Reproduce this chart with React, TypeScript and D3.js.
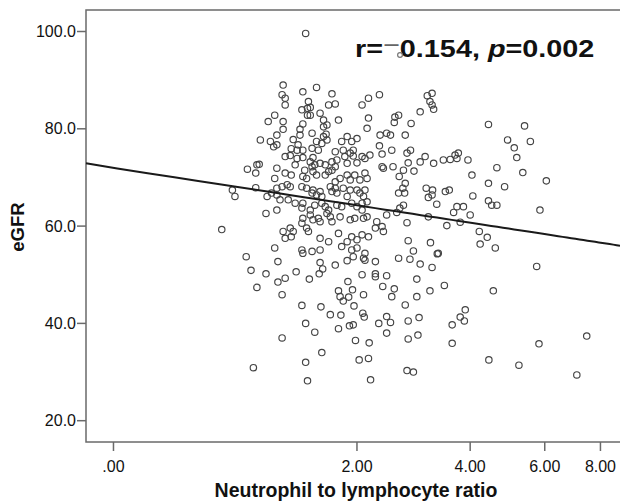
import React from "react";
import * as d3 from "d3";

const xTickValues = [0, 2, 4, 6, 8];
const xTickLabels = [".00", "2.00", "4.00", "6.00", "8.00"];
const yTickValues = [20, 40, 60, 80, 100];
const yTickLabels = ["20.0", "40.0", "60.0", "80.0", "100.0"];

const nlrValues = [
  1.38,0.94,0.83,0.91,0.93,0.90,0.71,0.73,0.90,1.00,0.99,1.01,
  1.15,1.14,1.17,1.17,1.35,1.50,1.68,1.41,1.64,1.72,1.40,1.43,1.34,1.40,1.43,1.54,1.07,
  1.15,1.15,1.35,1.32,1.58,1.58,1.62,1.76,2.07,2.16,2.16,2.14,
  1.09,1.03,1.09,1.06,1.25,1.32,1.30,1.45,1.58,1.61,1.62,1.50,1.35,1.29,1.23,1.45,1.52,1.56,
  1.72,1.80,1.87,1.93,2.00,1.82,1.95,1.91,1.84,1.95,2.07,1.17,1.22,1.29,1.27,1.09,
  1.35,1.43,1.46,1.48,1.45,1.60,1.68,1.74,1.72,2.11,2.18,1.54,1.87,2.00,1.68,
  1.07,1.17,1.23,1.35,1.37,1.39,1.46,1.50,1.60,1.64,1.72,1.78,1.87,1.91,1.97,2.04,2.11,2.14,
  1.09,1.14,1.19,1.22,1.04,1.09,1.34,1.39,1.46,1.45,1.50,1.54,1.56,1.66,1.68,1.72,1.74,1.82,1.91,1.87,2.00,2.04,2.09,2.11,
  1.20,1.27,1.12,1.09,1.35,1.34,1.43,1.48,1.56,1.60,1.64,1.74,1.80,1.93,2.00,2.07,2.14,
  1.35,1.43,1.46,1.52,1.54,1.62,1.66,1.68,1.78,1.91,1.97,2.09,2.07,2.14,
  1.34,1.39,1.22,1.25,1.17,1.15,1.23,1.41,1.54,1.64,1.76,1.87,1.93,2.00,2.07,2.16,
  1.07,1.34,1.35,1.45,1.54,1.80,1.93,2.00,1.95,2.11,2.09,
  0.63,0.82,0.86,0.99,0.91,1.10,1.10,1.17,1.14,1.28,1.42,1.54,1.57,1.53,1.72,1.87,1.88,1.76,1.94,1.78,1.82,1.89,1.96,1.34,1.55,1.66,1.79,1.76,1.90,1.95,1.98,2.03,1.38,1.48,1.14,1.56,1.38,0.88,1.40,
  2.11,2.26,2.07,2.09,2.08,2.10,2.16,2.17,2.19,
  2.33,2.43,2.49,2.73,2.56,2.62,2.55,2.83,2.99,3.21,3.24,
  2.32,2.36,2.51,2.76,2.82,2.99,3.08,3.24,2.78,2.36,2.38,2.53,2.70,2.88,2.63,2.73,2.69,2.72,2.62,
  3.43,3.57,3.67,3.74,3.71,3.95,4.04,3.47,3.55,3.10,3.21,3.14,3.30,3.22,
  4.43,4.92,5.10,5.17,5.39,5.56,4.64,5.34,4.84,4.43,6.05,5.85,4.43,4.51,4.64,4.06,4.00,3.85,3.71,3.64,3.78,3.50,3.14,4.21,4.23,4.40,4.60,
  2.28,2.43,2.59,2.76,2.64,2.70,2.26,2.36,2.38,2.78,2.87,3.18,3.33,3.31,2.62,2.81,2.99,3.21,2.93,2.26,2.26,2.37,2.43,2.51,2.55,2.73,2.93,3.17,3.45,2.78,2.97,2.43,2.49,2.31,2.43,2.78,2.95,2.76,2.87,
  5.75,4.55,7.46,5.82,4.44,5.23,7.09,3.89,3.78,3.87,3.61,3.61,
  2.32,3.12,3.21,3.17,
];

const egfrValues = [
  99.6,77.7,71.7,72.6,72.7,70.9,67.4,66.1,67.9,66.1,62.6,81.5,
  89.0,87.0,86.3,84.9,87.6,88.5,87.2,85.6,84.9,85.1,84.2,84.4,83.9,82.8,82.8,83.2,82.8,
  81.5,79.9,81.0,79.9,81.8,80.4,80.8,81.8,84.9,86.3,82.2,80.1,
  78.7,77.4,76.7,76.3,77.8,78.7,76.7,79.1,78.4,78.9,77.7,77.4,75.6,75.6,75.9,76.0,75.6,77.0,
  75.3,77.4,78.4,77.4,78.0,75.6,75.6,75.0,74.3,74.4,74.3,74.3,74.5,73.9,72.6,71.9,
  74.1,73.2,74.1,72.6,72.2,72.6,73.2,73.6,72.2,73.9,74.6,72.9,72.9,73.0,71.5,
  69.8,70.9,70.5,70.2,71.5,69.8,71.2,70.5,70.5,71.2,69.1,69.8,70.5,69.5,70.5,69.5,70.9,69.8,
  67.8,68.1,68.5,68.1,66.8,66.4,68.1,67.8,67.4,66.8,66.4,67.1,66.1,68.1,67.1,67.8,66.8,67.8,67.4,66.1,67.4,66.8,66.1,67.4,
  65.4,64.7,65.4,63.3,64.7,63.7,63.3,64.3,64.7,64.0,63.3,64.3,64.0,64.7,64.0,64.7,65.0,
  61.6,62.3,61.3,61.6,60.9,62.6,61.9,60.9,61.9,61.3,61.6,61.6,63.3,61.9,
  60.6,59.6,59.6,58.9,57.5,58.9,57.8,58.9,57.5,56.8,58.5,56.8,57.8,57.2,58.2,57.8,
  55.5,55.1,54.4,54.8,55.1,55.8,55.1,55.5,53.7,54.4,53.4,
  59.3,53.7,50.9,50.2,47.4,52.7,48.5,49.3,45.9,50.6,49.1,52.5,51.2,50.2,52.0,52.9,48.6,46.7,46.9,45.5,44.6,45.4,43.6,43.7,43.4,41.8,41.7,38.9,39.5,39.7,36.5,32.5,40.0,38.2,37.0,34.0,32.0,30.9,28.2,
  53.0,52.7,50.0,45.9,42.1,41.3,32.8,36.0,28.4,
  78.7,79.1,78.7,78.7,82.4,82.8,81.3,81.1,83.5,84.9,84.0,
  76.5,74.8,75.6,75.0,75.6,73.2,74.3,72.9,73.0,72.2,71.9,72.2,71.5,71.3,70.2,68.8,67.8,66.8,66.8,
  73.6,73.7,74.6,75.0,73.9,73.6,70.5,67.1,67.4,67.8,66.4,65.9,64.5,67.4,
  80.9,77.7,76.1,74.1,80.6,77.4,72.0,71.0,68.1,68.8,69.3,63.3,65.2,64.3,64.3,66.2,62.3,64.0,64.0,62.8,60.8,60.1,61.9,58.9,56.3,57.7,55.5,
  60.9,62.3,62.8,60.7,63.7,64.3,59.6,59.9,58.9,57.0,54.9,56.6,54.4,54.3,53.4,53.2,52.2,51.5,49.1,50.2,49.6,47.6,49.8,45.5,47.1,43.8,45.5,46.7,47.8,40.5,41.2,41.4,40.2,40.0,38.0,36.8,37.6,30.3,30.0,
  51.7,46.7,37.4,35.8,32.5,31.4,29.4,42.8,41.3,40.5,39.7,35.9,
  87.0,86.8,87.3,85.6,
];

// Linear fit on the log(1+x) axis: eGFR = a + b * ln(1 + NLR)
const fitIntercept = 71.95;
const fitSlope = -6.99;

const xDomain = [-0.132, 8.83];
const yDomain = [15.62, 104.42];

const W = 620;
const H = 504;
const left = 86;
const top = 10;
const right = 620;
const bottom = 442;

const FONT = "'Liberation Sans', Arial, Helvetica, sans-serif";

export default function App() {
  const x = d3.scaleSymlog().constant(1).domain(xDomain).range([left, right]);
  const y = d3.scaleLinear().domain(yDomain).range([bottom, top]);

  const n = Math.min(nlrValues.length, egfrValues.length);
  const pts = d3.range(n).map((i) => [nlrValues[i], egfrValues[i]]);

  const fitX = d3.range(0, 61).map((i) => xDomain[0] + ((xDomain[1] - xDomain[0]) * i) / 60);
  const fitLine = d3
    .line<number>()
    .x((d) => x(d))
    .y((d) => y(fitIntercept + fitSlope * Math.log(1 + d)))(fitX);

  return (
    <svg
      width={W}
      height={H}
      style={{ position: "absolute", left: 0, top: 0, background: "#fff" }}
      fontFamily={FONT}
    >
      <rect x={0} y={0} width={W} height={H} fill="#fff" />
      <rect
        x={left}
        y={top}
        width={right - left + 10}
        height={bottom - top}
        fill="none"
        stroke="#6a6a6a"
        strokeWidth={1.5}
      />
      <g fill="none" stroke="#444" strokeWidth={1.15}>
        {pts.map((p, i) => (
          <circle key={i} cx={x(p[0])} cy={y(p[1])} r={3.2} />
        ))}
      </g>
      <path d={fitLine || ""} fill="none" stroke="#1a1a1a" strokeWidth={2} />
      <g>
        {yTickValues.map((v, i) => (
          <g key={v}>
            <line x1={left - 9} x2={left} y1={y(v)} y2={y(v)} stroke="#6a6a6a" strokeWidth={1.5} />
            <text
              x={left - 10}
              y={y(v)}
              dy="0.35em"
              textAnchor="end"
              fontSize={16}
              fill="#111"
            >
              {yTickLabels[i]}
            </text>
          </g>
        ))}
      </g>
      <g>
        {xTickValues.map((v, i) => (
          <g key={v}>
            <line x1={x(v)} x2={x(v)} y1={bottom} y2={bottom + 9} stroke="#6a6a6a" strokeWidth={1.5} />
            <text x={x(v)} y={472} textAnchor="middle" fontSize={16} fill="#111">
              {xTickLabels[i]}
            </text>
          </g>
        ))}
      </g>
      <text
        x={356}
        y={497}
        textAnchor="middle"
        fontSize={19.5}
        fontWeight="bold"
        fill="#111"
      >
        Neutrophil to lymphocyte ratio
      </text>
      <text
        transform={`translate(24, 227) rotate(-90)`}
        textAnchor="middle"
        fontSize={18.5}
        fontWeight="bold"
        fill="#111"
      >
        eGFR
      </text>
      <g transform="translate(355, 57) scale(1.2, 1)">
        <text x={0} y={0} fontSize={24} fontWeight="bold" fill="#111">
          r=
          <tspan fill="#666" fontWeight="normal" dy={-4}>
            −
          </tspan>
          <tspan dy={4}>0.154, </tspan>
          <tspan fontStyle="italic">p</tspan>
          =0.002
        </text>
      </g>
      <circle cx={400} cy={55} r={2.4} fill="none" stroke="#777" strokeWidth={1.2} />
    </svg>
  );
}
